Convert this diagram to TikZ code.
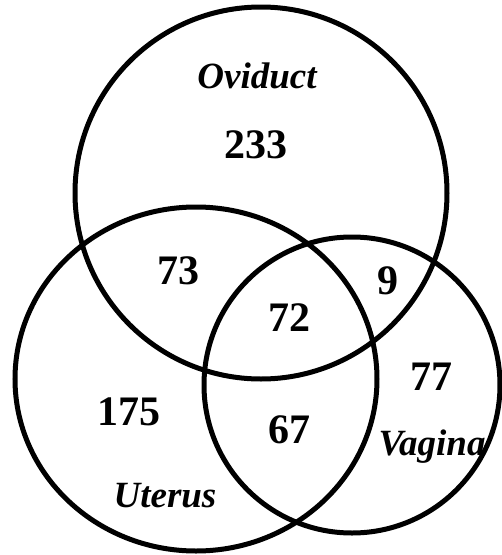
\documentclass[tikz,border=0pt]{standalone}
\usepackage{fontspec}
\setmainfont{Liberation Serif}
\usetikzlibrary{shapes.geometric}
\begin{document}
\begin{tikzpicture}[x=1pt,y=-1pt,
  ring/.style={draw=black,line width=5pt,inner sep=0pt,fill=none},
  num/.style={inner sep=0pt,font=\fontsize{42}{42}\selectfont\bfseries},
  lab/.style={inner sep=0pt,anchor=base,font=\fontsize{37}{37}\selectfont\bfseries\itshape}]
\useasboundingbox (0,0) rectangle (502,555);
\node[ring,circle,minimum size=372pt] (ovi) at (261,193) {};
\node[ring,ellipse,minimum width=362pt,minimum height=344pt] (ute) at (196,379) {};
\node[ring,circle,minimum size=296pt] (vag) at (352,385) {};
\node[lab] (lovi) at (257,88) {Oviduct};
\node[lab] (lute) at (165,507) {Uterus};
\node[lab] (lvag) at (432,455) {Vagina};
\node[num] (n233) at (256,145) {233};
\node[num] (n73) at (178,271) {73};
\node[num] (n175) at (129,412) {175};
\node[num] (n72) at (289,318) {72};
\node[num] (n9) at (388,281) {9};
\node[num] (n77) at (431,377) {77};
\node[num] (n67) at (289,430) {67};
\end{tikzpicture}
\end{document}
